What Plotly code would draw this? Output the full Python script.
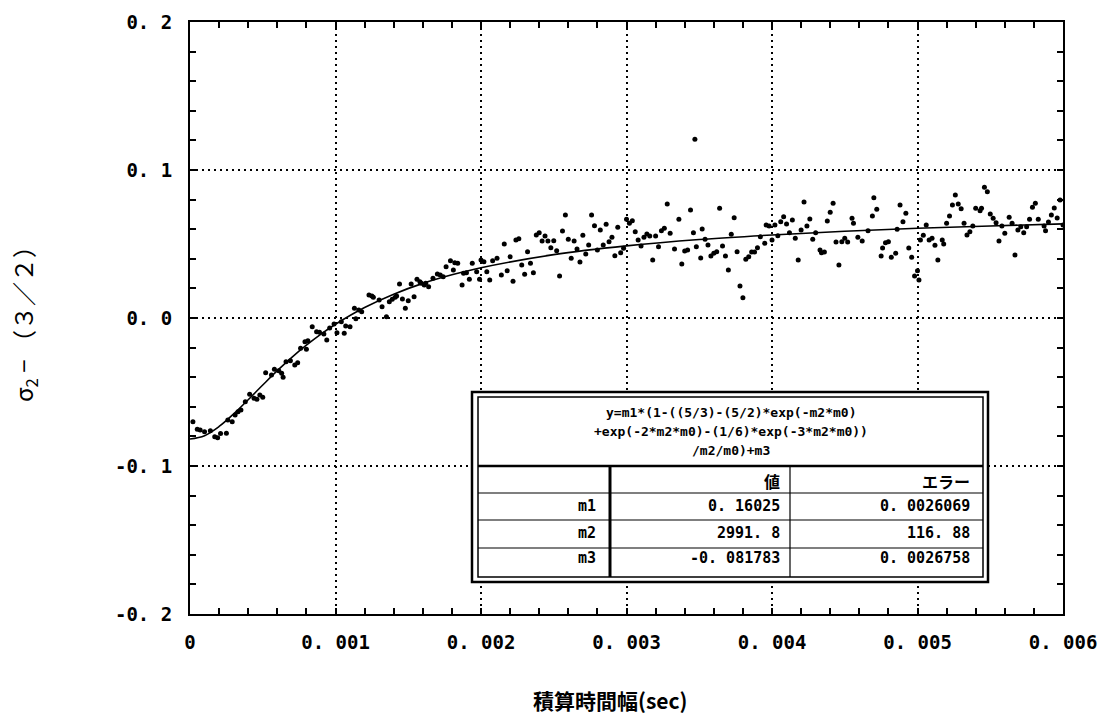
import plotly.graph_objects as go

# ---------------- data ----------------
pts_x = [
    0.00002, 0.00005, 0.00007, 0.00010, 0.00014, 0.00017, 0.00019, 0.00021, 0.00025, 0.00026,
    0.00029, 0.00031, 0.00033, 0.00035, 0.00038, 0.00041, 0.00044, 0.00046, 0.00048, 0.00050,
    0.00052, 0.00056, 0.00058, 0.00061, 0.00063, 0.00064, 0.00066, 0.00069, 0.00072, 0.00074,
    0.00076, 0.00079, 0.00080, 0.00081, 0.00084, 0.00087, 0.00089, 0.00092, 0.00094, 0.00096,
    0.00099, 0.00101,
    0.00104, 0.00106, 0.00107, 0.00110, 0.00113, 0.00114, 0.00116, 0.00118, 0.00123, 0.00125,
    0.00126, 0.00130, 0.00132, 0.00135, 0.00137, 0.00139, 0.00141, 0.00142, 0.00144, 0.00146,
    0.00148, 0.00150, 0.00152, 0.00154, 0.00156, 0.00158, 0.00159, 0.00161, 0.00162, 0.00164,
    0.00167, 0.00170, 0.00172, 0.00174, 0.00176, 0.00179, 0.00181, 0.00182, 0.00184, 0.00187,
    0.00188, 0.00190, 0.00192, 0.00194, 0.00197, 0.00199, 0.00200, 0.00202, 0.00204, 0.00206,
    0.00208, 0.00211,
    0.00214, 0.00216, 0.00218, 0.00220, 0.00222, 0.00224, 0.00226, 0.00228, 0.00230, 0.00232,
    0.00234, 0.00236, 0.00238, 0.00240, 0.00242, 0.00244, 0.00246, 0.00248, 0.00250, 0.00252,
    0.00254, 0.00256, 0.00258, 0.00260, 0.00262, 0.00264, 0.00266, 0.00268, 0.00270, 0.00272,
    0.00274, 0.00276, 0.00278, 0.00280, 0.00282, 0.00284, 0.00286, 0.00288, 0.00290, 0.00292,
    0.00294, 0.00296, 0.00298, 0.00300, 0.00302, 0.00304, 0.00306, 0.00308, 0.00310, 0.00312,
    0.00314, 0.00316, 0.00318, 0.00320, 0.00322, 0.00324, 0.00326, 0.00328, 0.00330,
    0.00333, 0.00336, 0.00338, 0.00340, 0.00342, 0.00344, 0.00346, 0.00347, 0.00348, 0.00351,
    0.00352, 0.00354, 0.00356, 0.00358, 0.00360, 0.00362, 0.00364, 0.00366, 0.00368, 0.00370,
    0.00372, 0.00374, 0.00376, 0.00378, 0.00380, 0.00382, 0.00384, 0.00386, 0.00388, 0.00390,
    0.00392, 0.00395, 0.00396, 0.00398, 0.00400, 0.00402, 0.00404, 0.00406, 0.00408, 0.00410,
    0.00412, 0.00414, 0.00416, 0.00418, 0.00420, 0.00422, 0.00424, 0.00426, 0.00428, 0.00430,
    0.00433, 0.00434, 0.00436, 0.00438, 0.00440, 0.00442, 0.00444, 0.00446, 0.00448, 0.00450,
    0.00452,
    0.00455, 0.00456, 0.00459, 0.00462, 0.00466, 0.00469, 0.00470, 0.00472, 0.00475, 0.00476,
    0.00478, 0.00480, 0.00482, 0.00485, 0.00486, 0.00488, 0.00490, 0.00492, 0.00494, 0.00496,
    0.00498, 0.00500, 0.00501, 0.00502, 0.00504, 0.00506, 0.00508, 0.00510, 0.00512, 0.00514,
    0.00517, 0.00518, 0.00520, 0.00522, 0.00524, 0.00526, 0.00528, 0.00530, 0.00532, 0.00534,
    0.00536, 0.00538, 0.00540, 0.00543, 0.00544, 0.00546, 0.00548, 0.00550, 0.00552, 0.00554,
    0.00556, 0.00558, 0.00560, 0.00563, 0.00565, 0.00567, 0.00569, 0.00571, 0.00573, 0.00575,
    0.00577, 0.00579, 0.00581, 0.00583, 0.00587, 0.00588, 0.00590, 0.00592, 0.00594, 0.00596,
    0.00598, 0.00600,
]
pts_y = [
    -0.0701, -0.0752, -0.0757, -0.0768, -0.0761, -0.0802, -0.0809, -0.0780, -0.0779, -0.0689,
    -0.0701, -0.0655, -0.0633, -0.0622, -0.0566, -0.0516, -0.0543, -0.0549, -0.0520, -0.0536,
    -0.0370, -0.0385, -0.0347, -0.0356, -0.0374, -0.0401, -0.0295, -0.0289, -0.0318, -0.0302,
    -0.0205, -0.0160, -0.0211, -0.0153, -0.0059, -0.0093, -0.0097, -0.0108, -0.0149, -0.0068,
    -0.0041, -0.0099,
    -0.0025, -0.0103, -0.0054, -0.0059, 0.0066, -0.0005, 0.0054, 0.0043, 0.0155, 0.0149,
    0.0140, 0.0122, 0.0076, 0.0009, 0.0110, 0.0126, 0.0140, 0.0149, 0.0230, 0.0128,
    0.0066, 0.0117, 0.0230, 0.0144, 0.0261, 0.0245, 0.0234, 0.0223, 0.0234, 0.0211,
    0.0268, 0.0297, 0.0291, 0.0279, 0.0347, 0.0387, 0.0324, 0.0374, 0.0370, 0.0223,
    0.0302, 0.0306, 0.0261, 0.0370, 0.0313, 0.0261, 0.0392, 0.0380, 0.0313, 0.0257,
    0.0387, 0.0403,
    0.0291, 0.0500, 0.0320, 0.0414, 0.0248, 0.0527, 0.0536, 0.0358, 0.0295, 0.0448,
    0.0370, 0.0306, 0.0561, 0.0576, 0.0520, 0.0554, 0.0520, 0.0475, 0.0522, 0.0455,
    0.0284, 0.0588, 0.0696, 0.0532, 0.0403, 0.0520, 0.0466, 0.0378, 0.0559, 0.0432,
    0.0493, 0.0696, 0.0624, 0.0459, 0.0595, 0.0493, 0.0633, 0.0516, 0.0545, 0.0421,
    0.0613, 0.0441, 0.0471, 0.0667, 0.0640, 0.0657, 0.0583, 0.0527, 0.0486, 0.0545,
    0.0568, 0.0554, 0.0392, 0.0554, 0.0482, 0.0590, 0.0606, 0.0770, 0.0572,
    0.0466, 0.0667, 0.0365, 0.0453, 0.0459, 0.0730, 0.0576, 0.1207, 0.0482, 0.0405,
    0.0601, 0.0532, 0.0493, 0.0419, 0.0437, 0.0448, 0.0741, 0.0486, 0.0419, 0.0324,
    0.0566, 0.0678, 0.0448, 0.0216, 0.0137, 0.0397, 0.0414, 0.0446, 0.0446, 0.0475,
    0.0549, 0.0505, 0.0628, 0.0622, 0.0527, 0.0628, 0.0556, 0.0651, 0.0684, 0.0635,
    0.0576, 0.0662, 0.0539, 0.0392, 0.0595, 0.0784, 0.0622, 0.0669, 0.0532, 0.0576,
    0.0459, 0.0441, 0.0446, 0.0655, 0.0714, 0.0775, 0.0514, 0.0358, 0.0516, 0.0539,
    0.0514,
    0.0674, 0.0640, 0.0545, 0.0520, 0.0590, 0.0689, 0.0813, 0.0734, 0.0419, 0.0473,
    0.0509, 0.0516, 0.0410, 0.0437, 0.0599, 0.0764, 0.0651, 0.0707, 0.0473, 0.0410,
    0.0284, 0.0320, 0.0257, 0.0527, 0.0559, 0.0628, 0.0527, 0.0539, 0.0491, 0.0392,
    0.0527, 0.0500, 0.0640, 0.0689, 0.0764, 0.0831, 0.0770, 0.0739, 0.0640, 0.0561,
    0.0583, 0.0622, 0.0741, 0.0725, 0.0741, 0.0883, 0.0853, 0.0703, 0.0674, 0.0644,
    0.0520, 0.0622, 0.0572, 0.0680, 0.0640, 0.0426, 0.0595, 0.0617, 0.0576, 0.0617,
    0.0667, 0.0748, 0.0775, 0.0667, 0.0622, 0.0590, 0.0649, 0.0696, 0.0743, 0.0676,
    0.0797, 0.0628,
]

# fitted curve values
curve_x = [0.0, 0.0001, 0.0002, 0.0003, 0.0004, 0.0005, 0.0006, 0.0007, 0.0008, 0.0009,
           0.0010, 0.0012, 0.0014, 0.0016, 0.0018, 0.0020, 0.0025, 0.0030, 0.0035, 0.0040,
           0.0045, 0.0050, 0.0055, 0.0060]
curve_y = [-0.0818, -0.0795, -0.0733, -0.0648, -0.0552, -0.0453, -0.0356, -0.0266, -0.0184, -0.0109,
           -0.0042, 0.0071, 0.0161, 0.0234, 0.0292, 0.0340, 0.0428, 0.0487, 0.0530, 0.0561,
           0.0586, 0.0606, 0.0622, 0.0636]

x_tickvals = [0, 0.001, 0.002, 0.003, 0.004, 0.005, 0.006]
x_ticktext = ["0", "0. 001", "0. 002", "0. 003", "0. 004", "0. 005", "0. 006"]
y_tickvals = [-0.2, -0.1, 0.0, 0.1, 0.2]
y_ticktext = ["-0. 2", "-0. 1", "0. 0", "0. 1", "0. 2"]

formula_lines = ["y=m1*(1-((5/3)-(5/2)*exp(-m2*m0)",
                 "+exp(-2*m2*m0)-(1/6)*exp(-3*m2*m0))",
                 "/m2/m0)+m3"]
col_headers = ["値", "エラー"]
param_names = ["m1", "m2", "m3"]
param_values = ["0. 16025", "2991. 8", "-0. 081783"]
param_errors = ["0. 0026069", "116. 88", "0. 0026758"]

x_title = "積算時間幅(sec)"
y_title = "σ<sub>2</sub> − （３／２）"

# ---------------- figure ----------------
W, H = 1100, 714
L, R, T, B = 190, 1063, 22, 614
MONO = "DejaVu Sans Mono, Noto Sans CJK JP"
CJK = "Noto Sans CJK JP"

fig = go.Figure()
fig.add_trace(go.Scatter(x=pts_x, y=pts_y, mode="markers",
                         marker=dict(color="black", size=5), showlegend=False))
fig.add_trace(go.Scatter(x=curve_x, y=curve_y, mode="lines", line_shape="spline",
                         line=dict(color="black", width=1.6), showlegend=False))

axis_common = dict(showline=True, linecolor="black", linewidth=2, mirror="allticks",
                   ticks="inside", ticklen=6, tickwidth=1.5, tickcolor="black",
                   showgrid=True, gridcolor="black", gridwidth=2, griddash="2px,4px",
                   zeroline=False, automargin=False,
                   tickfont=dict(family=MONO, size=19, color="black", weight="bold"))

fig.update_xaxes(range=[0, 0.006], tickvals=x_tickvals, ticktext=x_ticktext,
                 minor=dict(dtick=0.0002, ticks="inside", ticklen=6, tickwidth=1.5,
                            tickcolor="black", showgrid=False),
                 ticklabelstandoff=10, **axis_common)
fig.update_yaxes(range=[-0.2, 0.2], tickvals=y_tickvals, ticktext=y_ticktext,
                 minor=dict(dtick=0.02, ticks="inside", ticklen=6, tickwidth=1.5,
                            tickcolor="black", showgrid=False),
                 ticklabelstandoff=12, **axis_common)


def px(x):
    return (x - L) / (R - L)


def py(y):
    return (B - y) / (B - T)


shapes = []
annotations = []

# table geometry (pixels)
tx0, tx1, ty0, ty1 = 472, 988, 392, 582
ix0, ix1, iy0, iy1 = 478, 983, 397, 577
sep_y = 466
row_lines = [493, 520, 548]
vthick, vthin = 610, 790
row_centers = [481, 506, 533, 558]

shapes.append(dict(type="rect", xref="paper", yref="paper", x0=px(tx0), x1=px(tx1),
                   y0=py(ty1), y1=py(ty0), line=dict(color="black", width=2.5),
                   fillcolor="white", layer="above"))
shapes.append(dict(type="rect", xref="paper", yref="paper", x0=px(ix0), x1=px(ix1),
                   y0=py(iy1), y1=py(iy0), line=dict(color="black", width=1.5),
                   layer="above"))
shapes.append(dict(type="line", xref="paper", yref="paper", x0=px(ix0), x1=px(ix1),
                   y0=py(sep_y), y1=py(sep_y), line=dict(color="black", width=2.5)))
for ry in row_lines:
    shapes.append(dict(type="line", xref="paper", yref="paper", x0=px(ix0), x1=px(ix1),
                       y0=py(ry), y1=py(ry), line=dict(color="black", width=1.2)))
shapes.append(dict(type="line", xref="paper", yref="paper", x0=px(vthick), x1=px(vthick),
                   y0=py(sep_y), y1=py(iy1), line=dict(color="black", width=3)))
shapes.append(dict(type="line", xref="paper", yref="paper", x0=px(vthin), x1=px(vthin),
                   y0=py(sep_y), y1=py(iy1), line=dict(color="black", width=1.2)))

fline_y = [412, 431, 450]
for t, yy in zip(formula_lines, fline_y):
    annotations.append(dict(xref="paper", yref="paper", x=px((ix0 + ix1) / 2), y=py(yy),
                            text=t, showarrow=False, xanchor="center", yanchor="middle",
                            font=dict(family=MONO, size=13, color="black", weight="bold")))

col_right = [598, 782, 972]
for j, h in enumerate(col_headers):
    annotations.append(dict(xref="paper", yref="paper", x=px(col_right[j + 1]), y=py(row_centers[0]),
                            text=h, showarrow=False, xanchor="right", yanchor="middle",
                            font=dict(family=CJK, size=16, color="black", weight="bold")))
for i in range(3):
    yy = py(row_centers[i + 1])
    for j, t in enumerate([param_names[i], param_values[i], param_errors[i]]):
        annotations.append(dict(xref="paper", yref="paper", x=px(col_right[j]), y=yy,
                                text=t, showarrow=False, xanchor="right", yanchor="middle",
                                font=dict(family=MONO, size=15, color="black", weight="bold")))

# axis titles
annotations.append(dict(xref="paper", yref="paper", x=px(610), y=py(700), text=x_title,
                        showarrow=False, xanchor="center", yanchor="middle",
                        font=dict(family=CJK, size=21, color="black", weight="bold")))
annotations.append(dict(xref="paper", yref="paper", x=px(24), y=py(318), text=y_title,
                        showarrow=False, xanchor="center", yanchor="middle", textangle=-90,
                        font=dict(family=CJK, size=24, color="black")))

fig.update_layout(width=W, height=H, margin=dict(l=L, r=W - R, t=T, b=H - B),
                  paper_bgcolor="white", plot_bgcolor="white",
                  shapes=shapes, annotations=annotations, showlegend=False)

fig.write_html("out.html")
